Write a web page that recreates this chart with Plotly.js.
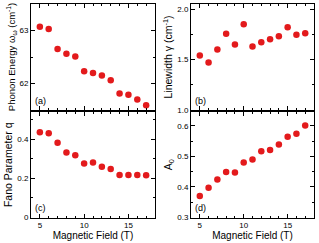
<!DOCTYPE html>
<html><head><meta charset="utf-8">
<script src="https://cdn.plot.ly/plotly-3.0.1.min.js"></script>
<style>html,body{margin:0;padding:0;background:#fff}#plot{width:319px;height:243px}</style>
</head><body><div id="plot"></div>
<script>
const field = [5,6,7,8,9,10,11,12,13,14,15,16,17];
const phononEnergy = [63.07,63.03,62.65,62.56,62.51,62.23,62.20,62.15,62.06,61.81,61.79,61.70,61.59];
const linewidth = [1.54,1.47,1.60,1.755,1.65,1.85,1.63,1.67,1.70,1.73,1.82,1.745,1.76];
const fanoQ = [0.436,0.431,0.383,0.333,0.318,0.277,0.282,0.260,0.248,0.217,0.218,0.218,0.216];
const a0 = [0.370,0.397,0.424,0.449,0.447,0.480,0.490,0.517,0.521,0.539,0.564,0.574,0.601];
const panelLabels = ['(a)','(b)','(c)','(d)'];

const red = '#e31a1c';
const font = 'Liberation Sans, Arial, sans-serif';
function tr(y, xa, ya){
  return {x: field, y: y, xaxis: xa, yaxis: ya, mode: 'markers', type: 'scatter',
    marker: {color: red, size: 6.5}, showlegend: false, hoverinfo: 'none'};
}
const data = [tr(phononEnergy,'x','y'), tr(linewidth,'x2','y2'), tr(fanoQ,'x3','y3'), tr(a0,'x4','y4')];

const L = [31/319, 155/319], R = [191/319, 314/319];
const T = [1-110/243, 1-4/243], B = [1-217.5/243, 1-112/243];
function xax(dom, anchor, labels){
  const ax = {domain: dom, anchor: anchor, range: [4,18], tickvals: [5,10,15],
    ticks: 'inside', ticklen: 4, tickwidth: 1, tickcolor: '#000',
    showline: true, linecolor: '#000', linewidth: 1, mirror: 'allticks',
    showgrid: false, zeroline: false, showticklabels: labels,
    tickfont: {family: font, size: 8, color: '#000'},
    minor: {dtick: 1, tick0: 0, ticks: 'inside', ticklen: 2, tickcolor: '#000', showgrid: false}};
  if (labels) ax.title = {text: 'Magnetic Field (T)', font: {family: font, size: 10, color: '#000'}, standoff: 2};
  return ax;
}
function yax(dom, anchor, range, dtick, minor, fmt, title, fs){
  return {domain: dom, anchor: anchor, range: range, dtick: dtick, tick0: 0, tickformat: fmt,
    ticks: 'inside', ticklen: 4, tickwidth: 1, tickcolor: '#000',
    showline: true, linecolor: '#000', linewidth: 1, mirror: 'allticks',
    showgrid: false, zeroline: false,
    tickfont: {family: font, size: 8, color: '#000'},
    minor: {dtick: minor, ticks: 'inside', ticklen: 2, tickcolor: '#000', showgrid: false},
    title: {text: title, font: {family: font, size: fs, color: '#000'}, standoff: 2}};
}
const anns = [['x','y'],['x2','y2'],['x3','y3'],['x4','y4']].map((a,i)=>({
  xref: a[0]+' domain', yref: a[1]+' domain', x: 0.02, y: 0.02, xanchor: 'left', yanchor: 'bottom',
  text: panelLabels[i], showarrow: false, font: {family: font, size: 9, color: '#000'}}));

const layout = {
  width: 319, height: 243, margin: {l: 0, r: 0, t: 0, b: 0},
  paper_bgcolor: '#fff', plot_bgcolor: '#fff', showlegend: false,
  xaxis: xax(L,'y',false), yaxis: yax(T,'x',[61.5,63.5],1,0.5,'d','Phonon Energy ω<sub>ω</sub> (cm<sup>-1</sup>)',9.5),
  xaxis2: xax(R,'y2',false), yaxis2: yax(T,'x2',[1.0,2.05],0.5,0.25,'.1f','Linewidth γ (cm<sup>-1</sup>)',10.5),
  xaxis3: xax(L,'y3',true), yaxis3: yax(B,'x3',[0,0.54],0.2,0.1,'','Fano Parameter q',10.5),
  xaxis4: xax(R,'y4',true), yaxis4: yax(B,'x4',[0.3,0.645],0.1,0.05,'.1f','A<sub>0</sub>',10.5),
  annotations: anns
};
Plotly.newPlot('plot', data, layout, {staticPlot: true, displayModeBar: false});
</script></body></html>
